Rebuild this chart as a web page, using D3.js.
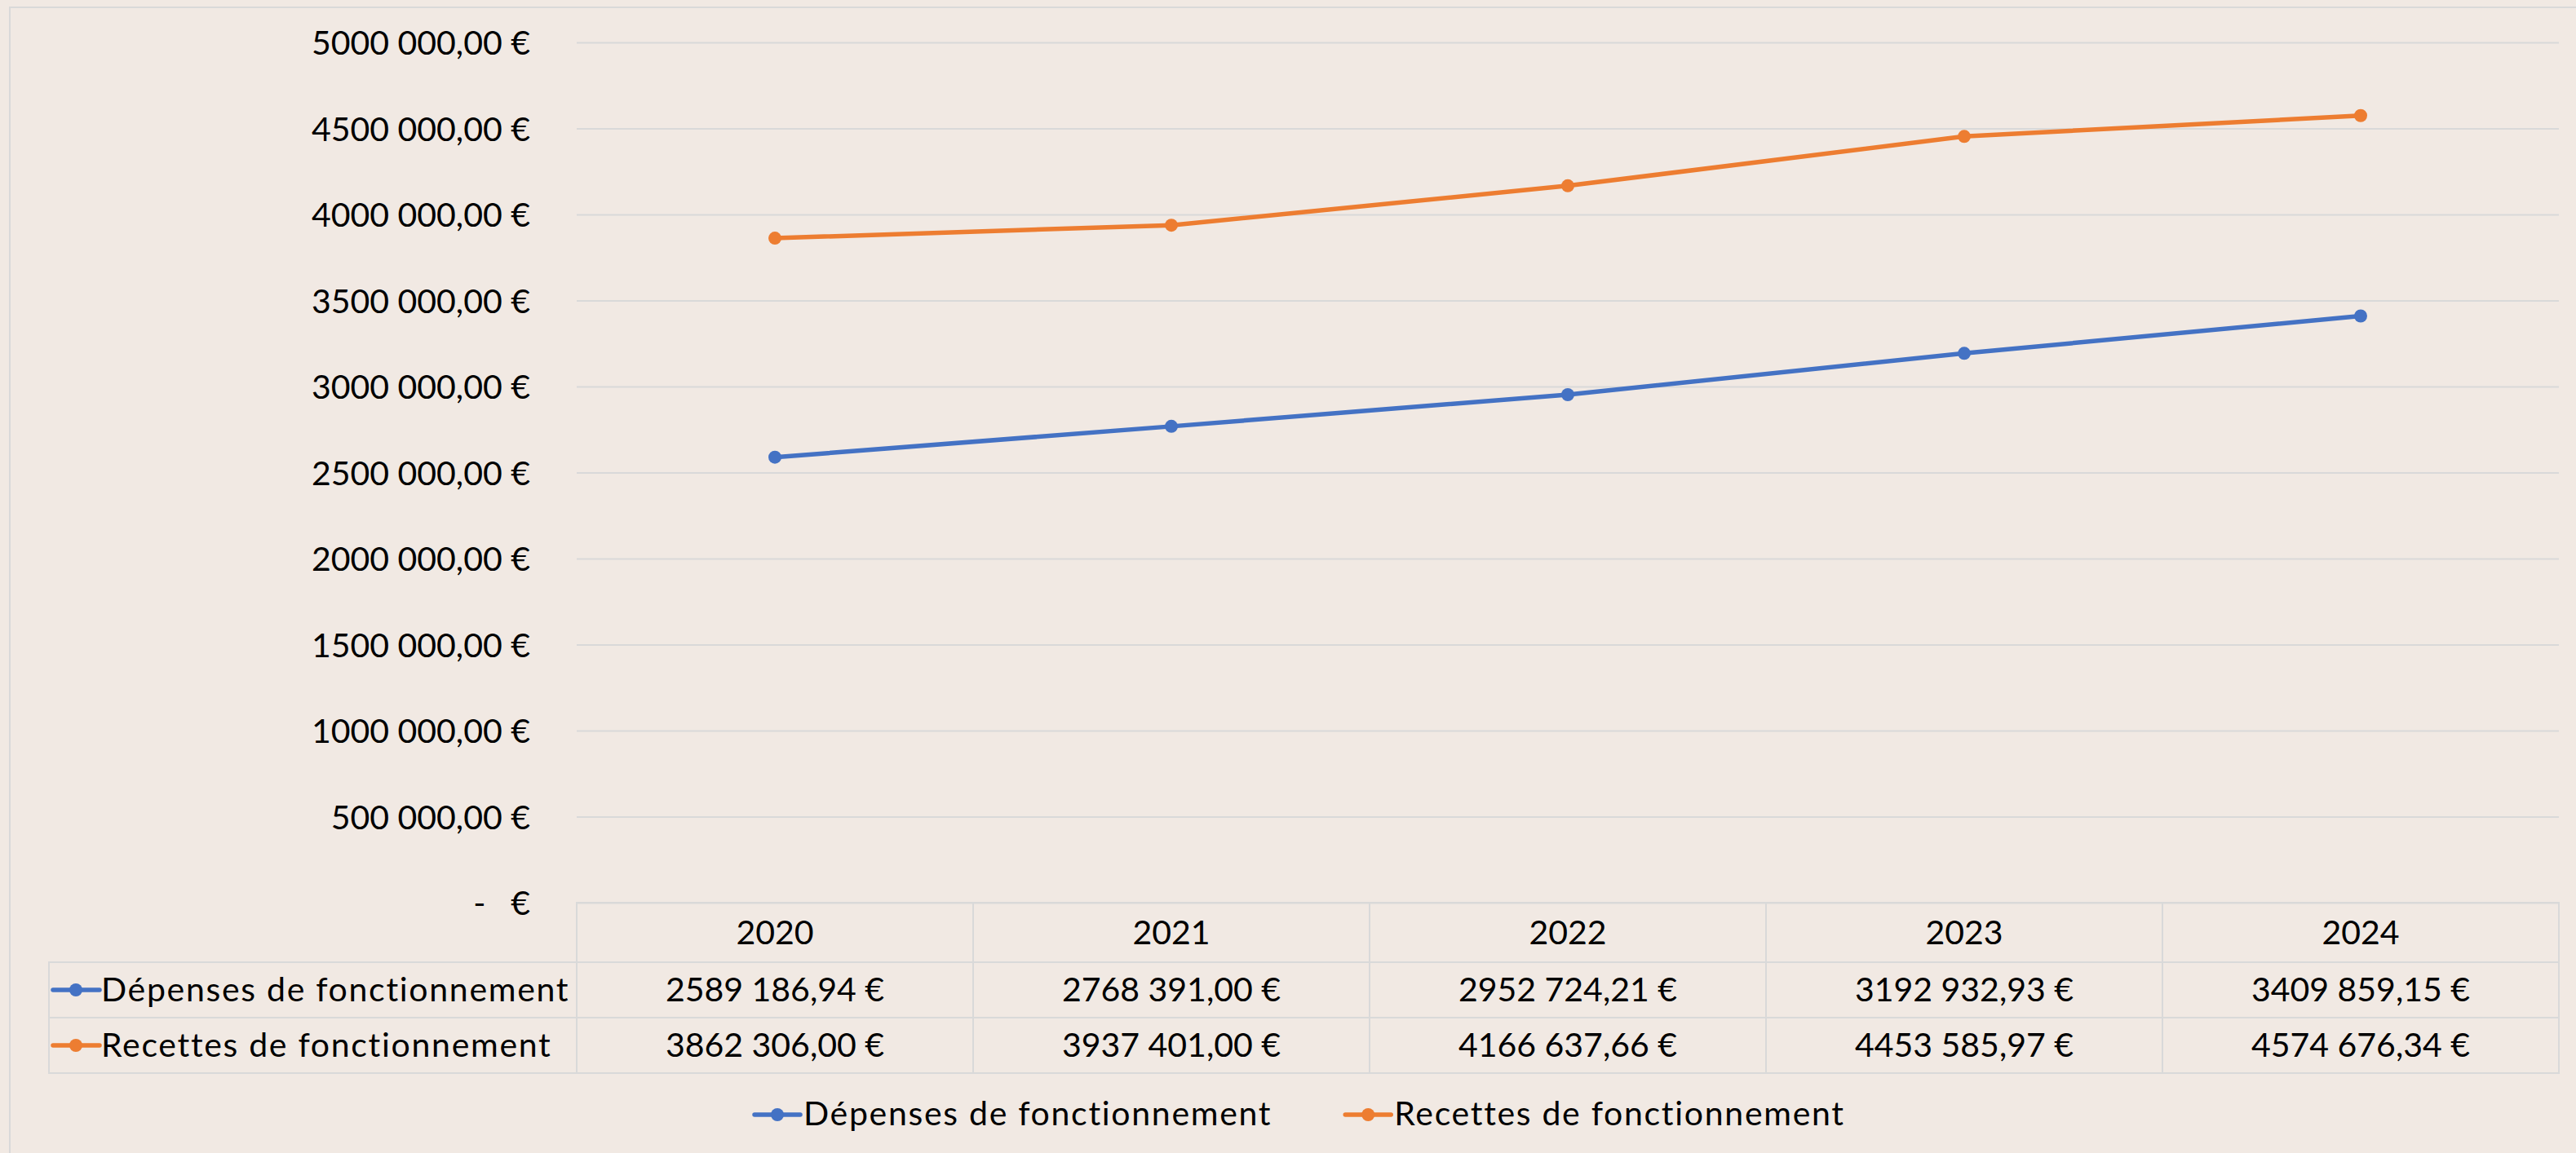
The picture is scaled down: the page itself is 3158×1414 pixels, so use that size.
<!DOCTYPE html>
<html>
<head>
<meta charset="utf-8">
<script src="https://cdn.jsdelivr.net/npm/d3@7"></script>
<style>
  html, body { margin: 0; padding: 0; background: #F1E9E3; }
  svg { display: block; font-family: Lato, "Open Sans", sans-serif; }
</style>
</head>
<body>
<div id="chart"></div>
<script>
// data
var years = ["2020", "2021", "2022", "2023", "2024"];
var depenses = [2589186.94, 2768391.00, 2952724.21, 3192932.93, 3409859.15];
var recettes = [3862306.00, 3937401.00, 4166637.66, 4453585.97, 4574676.34];
var seriesNames = ["Dépenses de fonctionnement", "Recettes de fonctionnement"];
var seriesColors = ["#4472C4", "#ED7D31"];
var yTicks = [0, 500000, 1000000, 1500000, 2000000, 2500000, 3000000, 3500000, 4000000, 4500000, 5000000];

var series = [
    {name: seriesNames[0], color: seriesColors[0], values: depenses},
    {name: seriesNames[1], color: seriesColors[1], values: recettes}
];

var W = 3158, H = 1414;
var plot = {left: 707, right: 3137, top: 52, bottom: 1107};
var rowH = [1107, 1180, 1248, 1316];  // table lines
var labelLeft = 60;
var fontSize = 41;
var nameSpacing = "1.7px";  // Lato runs narrower than the original font on these labels
var gridColor = "#D9D9D9";
var lineW = 5.5, markR = 8;

// french currency like Excel: "2589 186,94 €"
var locale = d3.formatLocale({decimal: ",", thousands: " ", grouping: [3, 12], currency: ["", " €"]});
var money = locale.format("$,.2f");

var svg = d3.select("#chart")
    .append("svg")
    .attr("width", W)
    .attr("height", H);

// chart border
svg.append("rect")
    .attr("x", 12).attr("y", 9)
    .attr("width", W + 40).attr("height", H + 40)
    .attr("fill", "#F1E9E3")
    .attr("stroke", gridColor)
    .attr("stroke-width", 2);

var x = d3.scaleBand()
    .domain(years)
    .range([plot.left, plot.right]);

var y = d3.scaleLinear()
    .domain([0, 5000000])
    .range([plot.bottom, plot.top]);

// gridlines
svg.append("g")
    .attr("transform", "translate(" + plot.left + ",0)")
    .call(d3.axisLeft(y).tickValues(yTicks).tickSize(-(plot.right - plot.left)).tickFormat(""))
    .call(g => g.select(".domain").remove())
    .call(g => g.selectAll("line").attr("stroke", gridColor).attr("stroke-width", 2));

// y labels
var yAxis = svg.append("g")
    .attr("transform", "translate(" + plot.left + ",0)")
    .call(d3.axisLeft(y).tickValues(yTicks).tickSize(0).tickPadding(57)
        .tickFormat(d => d === 0 ? "-\u2002\u2009\u2009€" : money(d)))
    .call(g => g.select(".domain").remove());
yAxis.selectAll("text")
    .attr("dy", "0.36em")
    .style("font-family", "Lato, sans-serif")
    .style("font-size", fontSize + "px")
    .attr("fill", "#000");

// lines
var line = d3.line()
    .x((d, i) => x(years[i]) + x.bandwidth() / 2)
    .y(d => y(d));

series.forEach(function(s) {
    svg.append("path")
        .datum(s.values)
        .attr("fill", "none")
        .attr("stroke", s.color)
        .attr("stroke-width", lineW)
        .attr("stroke-linejoin", "round")
        .attr("d", line);

    svg.selectAll(null)
        .data(s.values)
        .enter()
        .append("circle")
        .attr("cx", (d, i) => x(years[i]) + x.bandwidth() / 2)
        .attr("cy", d => y(d))
        .attr("r", markR)
        .attr("fill", s.color);
});

// data table
var table = svg.append("g").attr("class", "table");

// header cells
table.selectAll(".hcell")
    .data(years)
    .enter()
    .append("rect")
    .attr("x", d => x(d))
    .attr("y", rowH[0])
    .attr("width", x.bandwidth())
    .attr("height", rowH[1] - rowH[0])
    .attr("fill", "none")
    .attr("stroke", gridColor)
    .attr("stroke-width", 2);

table.selectAll(".htext")
    .data(years)
    .enter()
    .append("text")
    .attr("x", d => x(d) + x.bandwidth() / 2)
    .attr("y", 1158)
    .attr("text-anchor", "middle")
    .style("font-size", fontSize + "px")
    .text(d => d);

var baselines = [1228, 1296];

series.forEach(function(s, r) {
    var top = rowH[r + 1], bot = rowH[r + 2];

    // label cell
    table.append("rect")
        .attr("x", labelLeft)
        .attr("y", top)
        .attr("width", plot.left - labelLeft)
        .attr("height", bot - top)
        .attr("fill", "none")
        .attr("stroke", gridColor)
        .attr("stroke-width", 2);

    // value cells
    table.selectAll(null)
        .data(years)
        .enter()
        .append("rect")
        .attr("x", d => x(d))
        .attr("y", top)
        .attr("width", x.bandwidth())
        .attr("height", bot - top)
        .attr("fill", "none")
        .attr("stroke", gridColor)
        .attr("stroke-width", 2);

    // legend key in table
    var cy = (top + bot) / 2;
    table.append("line")
        .attr("x1", 65).attr("x2", 122)
        .attr("y1", cy).attr("y2", cy)
        .attr("stroke", s.color)
        .attr("stroke-width", lineW)
        .attr("stroke-linecap", "round");
    table.append("circle")
        .attr("cx", 93).attr("cy", cy)
        .attr("r", markR)
        .attr("fill", s.color);

    table.append("text")
        .attr("x", 124)
        .attr("y", baselines[r])
        .style("font-size", fontSize + "px")
        .style("letter-spacing", nameSpacing)
        .text(s.name);

    table.selectAll(null)
        .data(s.values)
        .enter()
        .append("text")
        .attr("x", (d, i) => x(years[i]) + x.bandwidth() / 2)
        .attr("y", baselines[r])
        .attr("text-anchor", "middle")
        .style("font-size", fontSize + "px")
        .text(d => money(d));
});

// bottom legend
var legend = svg.append("g").attr("class", "legend");
var legendY = 1367;
var items = legend.selectAll(".item")
    .data(series)
    .enter()
    .append("g")
    .attr("class", "item");

items.append("line")
    .attr("x1", 0).attr("x2", 56)
    .attr("y1", 0).attr("y2", 0)
    .attr("stroke", d => d.color)
    .attr("stroke-width", lineW)
    .attr("stroke-linecap", "round");
items.append("circle")
    .attr("cx", 28).attr("cy", 0)
    .attr("r", markR)
    .attr("fill", d => d.color);
items.append("text")
    .attr("x", 60)
    .attr("y", 13)
    .style("font-size", fontSize + "px")
    .style("letter-spacing", nameSpacing)
    .text(d => d.name);

// lay items side by side from the left start
var gap = 90, widths = [];
items.each(function() { widths.push(this.getBBox().width); });
var x0 = 925;
items.attr("transform", function(d, i) {
    var off = x0 + d3.sum(widths.slice(0, i)) + gap * i;
    return "translate(" + off + "," + legendY + ")";
});
</script>
</body>
</html>
